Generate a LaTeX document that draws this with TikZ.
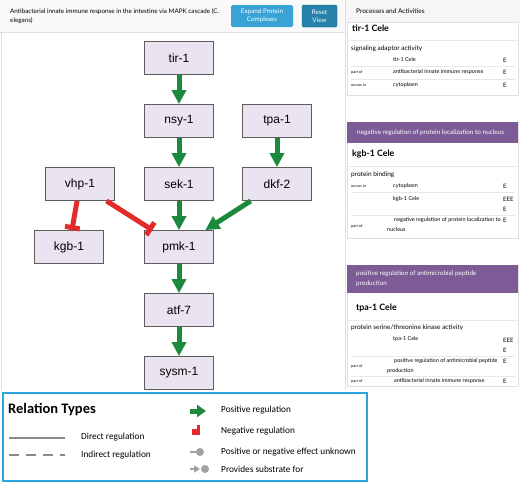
\documentclass[tikz,border=0pt]{standalone}
\usepackage{fontspec}
\setmainfont{Lato}
\newfontfamily\genefont{Liberation Sans}
\newfontfamily\keyfont{Carlito}
\usetikzlibrary{arrows.meta,positioning}
\definecolor{posgreen}{HTML}{1B8A3C}
\definecolor{negred}{HTML}{E42B2B}
\definecolor{genefill}{HTML}{EAE4F0}
\definecolor{geneline}{HTML}{5C5C5C}
\definecolor{goband}{HTML}{7D5B96}
\definecolor{keyblue}{HTML}{2AA6DE}
\definecolor{btnblue}{HTML}{38A3D4}
\definecolor{btndark}{HTML}{2682AA}
\definecolor{keygray}{HTML}{8A8A8A}

\begin{document}
\begin{tikzpicture}[x=1pt,y=-1pt,
  gene/.style={draw=geneline,fill=genefill,line width=.8pt,minimum width=69pt,minimum height=33pt,inner sep=0pt,font=\genefont\fontsize{12}{14}\selectfont},
  posreg/.style={draw=posgreen,line width=5pt,-{Triangle[length=14pt,width=14pt]}},
  negreg/.style={draw=negred,line width=5pt,-{Bar[width=15pt]}},
  btn/.style={text=white,align=center,rounded corners=1.5pt,inner sep=0pt,minimum height=22pt,font=\fontsize{6.3}{8}\selectfont},
  card/.style={draw=gray!25,fill=white},
  rowsep/.style={draw=gray!18,line width=.4pt},
  ctitle/.style={anchor=west,inner sep=0pt,font=\bfseries\fontsize{8.8}{10}\selectfont},
  cact/.style={anchor=west,inner sep=0pt,font=\fontsize{6.5}{7}\selectfont},
  crel/.style={anchor=west,inner sep=0pt,font=\fontsize{3.8}{4}\selectfont},
  cval/.style={anchor=west,inner sep=0pt,font=\fontsize{5.5}{6}\selectfont},
  cev/.style={anchor=west,inner sep=0pt,font=\fontsize{6}{7}\selectfont},
  band/.style={anchor=west,inner sep=0pt,text=white,align=left,font=\fontsize{6.4}{10}\selectfont},
  keytxt/.style={anchor=west,inner sep=0pt,font=\keyfont\fontsize{9.3}{11}\selectfont},
  keyline/.style={draw=keygray,line width=1.5pt}]
\path[use as bounding box] (0,0) rectangle (520,483);
% header and panels
\fill[gray!5] (0,0) rectangle (345,32);
\draw[gray!25] (0,32.5) -- (345,32.5);
\draw[gray!25] (1,32.5) -- (1,390);
\draw[gray!25] (345.5,0) -- (345.5,390);
\node[anchor=north west,inner sep=0pt,align=left,font=\fontsize{6.3}{9}\selectfont] (title) at (10,8) {Antibacterial innate immune response in the intestine via MAPK cascade (C.\\elegans)};
\node[btn,fill=btnblue,minimum width=62pt] (expand) at (262,16) {Expand Protein\\Complexes};
\node[btn,fill=btndark,draw=btndark!70!black,minimum width=35pt] (reset) at (319.5,16) {Reset\\View};

% pathway
\node[gene] (tir) at (179,58) {tir-1};
\node[gene] (nsy) at (179,121) {nsy-1};
\node[gene] (tpa) at (277,121) {tpa-1};
\node[gene] (vhp) at (80,184) {vhp-1};
\node[gene] (sek) at (179,184) {sek-1};
\node[gene] (dkf) at (277,184) {dkf-2};
\node[gene] (kgb) at (69,247) {kgb-1};
\node[gene] (pmk) at (179,247) {pmk-1};
\node[gene] (atf) at (179,310) {atf-7};
\node[gene] (sysm) at (179,373) {sysm-1};
\draw[posreg] (tir) -- (nsy);
\draw[posreg] (nsy) -- (sek);
\draw[posreg] (tpa) -- (dkf);
\draw[posreg] (sek) -- (pmk);
\draw[posreg] (dkf) -- (pmk);
\draw[negreg] (vhp) -- (kgb);
\draw[negreg] (vhp) -- (pmk);
\draw[posreg] (pmk) -- (atf);
\draw[posreg] (atf) -- (sysm);

% side panel
\fill[gray!7] (346,0) rectangle (520,22);
\node[anchor=west,inner sep=0pt,font=\fontsize{6.5}{8}\selectfont] (side) at (356,11) {Processes and Activities};
% card 1
\draw[card] (347,22) rectangle (518,95);
\node[ctitle] (c1t) at (352,28) {tir-1 Cele};
\draw[rowsep] (347,40) -- (518,40);
\node[cact] (c1a) at (351,49) {signaling adaptor activity};
\node[cval] (c1v1) at (393,59) {tir-1 Cele};
\node[cev] (c1e1) at (503,60) {E};
\draw[rowsep] (351,66) -- (515,66);
\node[crel] (c1r2) at (351,72) {part of};
\node[cval] (c1v2) at (393,72) {antibacterial innate immune response};
\node[cev] (c1e2) at (503,72.5) {E};
\draw[rowsep] (351,79) -- (515,79);
\node[crel] (c1r3) at (351,85) {occurs in};
\node[cval] (c1v3) at (393,85) {cytoplasm};
\node[cev] (c1e3) at (503,85.5) {E};
% card 2
\draw[card] (347,122) rectangle (518,238);
\fill[goband] (347,122) rectangle (518,143);
\node[band] (c2b) at (357,132.5) {negative regulation of protein localization to nucleus};
\node[ctitle] (c2t) at (352,154) {kgb-1 Cele};
\draw[rowsep] (347,166) -- (518,166);
\node[cact] (c2a) at (351,175) {protein binding};
\node[crel] (c2r1) at (351,186) {occurs in};
\node[cval] (c2v1) at (393,186) {cytoplasm};
\node[cev] (c2e1) at (503,186.5) {E};
\draw[rowsep] (351,192.5) -- (515,192.5);
\node[cval] (c2v2) at (393,199) {kgb-1 Cele};
\node[cev] (c2e2) at (503,199.5) {EEE};
\node[cev] (c2e3) at (503,209) {E};
\draw[rowsep] (351,215) -- (515,215);
\node[crel] (c2r3) at (351,226) {part of};
\node[cval] (c2v3) at (394,220) {negative regulation of protein localization to};
\node[cval] (c2v4) at (387,229) {nucleus};
\node[cev] (c2e4) at (503,220.5) {E};
% card 3
\draw[card] (347,265) rectangle (518,386);
\fill[goband] (347,265) rectangle (518,293);
\node[band,anchor=north west] (c3b) at (356,270.5) {positive regulation of antimicrobial peptide\\production};
\node[ctitle] (c3t) at (356,308) {tpa-1 Cele};
\draw[rowsep] (347,320) -- (518,320);
\node[cact] (c3a) at (351,328) {protein serine/threonine kinase activity};
\node[cval] (c3v1) at (393,339) {tpa-1 Cele};
\node[cev] (c3e1) at (503,340) {EEE};
\node[cev] (c3e2) at (503,350) {E};
\draw[rowsep] (351,356) -- (515,356);
\node[crel] (c3r2) at (351,366) {part of};
\node[cval] (c3v2) at (394,361) {positive regulation of antimicrobial peptide};
\node[cval] (c3v3) at (387,371) {production};
\node[cev] (c3e3) at (503,361.5) {E};
\draw[rowsep] (351,376) -- (515,376);
\node[crel] (c3r4) at (351,381) {part of};
\node[cval] (c3v4) at (394,381) {antibacterial innate immune response};
\node[cev] (c3e4) at (503,381.5) {E};

% legend
\draw[keyblue,line width=1.5pt,fill=white] (3,393) rectangle (367,481);
\node[anchor=west,inner sep=0pt,font=\keyfont\bfseries\fontsize{14.5}{16}\selectfont] (keyhead) at (8,410) {Relation Types};
\draw[keyline] (9,438) -- (65,438);
\node[keytxt] (kdirect) at (81,437.5) {Direct regulation};
\draw[keyline,dash pattern=on 10pt off 7pt] (9,455) -- (65,455);
\node[keytxt] (kindirect) at (81,455) {Indirect regulation};
\draw[posgreen,line width=5pt,-{Triangle[length=9pt,width=12pt]}] (190,411) -- (206,411);
\node[keytxt] (kpos) at (221,410.5) {Positive regulation};
\fill[negred] (192,429) rectangle (196.5,434.5);
\fill[negred] (196.5,425) rectangle (199.5,435);
\node[keytxt] (kneg) at (221,431) {Negative regulation};
\draw[keygray!80,line width=1.5pt] (190,452) -- (197,452);
\fill[keygray!80] (200,452) circle (4pt);
\node[keytxt] (kunk) at (221,452) {Positive or negative effect unknown};
\draw[keygray!80,line width=1.5pt,-{Triangle[length=6pt,width=7pt]}] (190,469) -- (200,469);
\fill[keygray!80] (205,469) circle (4pt);
\node[keytxt] (ksub) at (221,469) {Provides substrate for};
\end{tikzpicture}
\end{document}
